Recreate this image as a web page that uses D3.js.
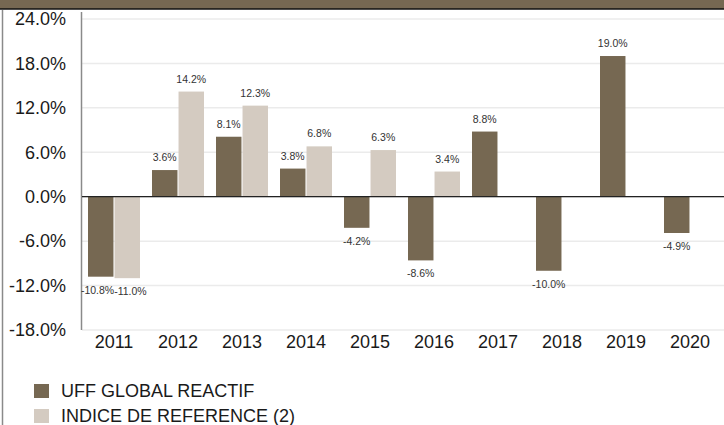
<!DOCTYPE html>
<html>
<head>
<meta charset="utf-8">
<script src="https://cdn.jsdelivr.net/npm/d3@7"></script>
<style>
  body { margin: 0; background: #fff; }
  svg { display: block; font-family: "Liberation Sans", Arial, sans-serif; }
</style>
</head>
<body>
<div id="chart"></div>
<script>
const years = ["2011", "2012", "2013", "2014", "2015", "2016", "2017", "2018", "2019", "2020"];
const fundValues = [-10.8, 3.6, 8.1, 3.8, -4.2, -8.6, 8.8, -10.0, 19.0, -4.9];
const indexValues = [-11.0, 14.2, 12.3, 6.8, 6.3, 3.4, null, null, null, null];
const seriesNames = ["UFF GLOBAL REACTIF", "INDICE DE REFERENCE (2)"];
const yTicks = [-18, -12, -6, 0, 6, 12, 18, 24];

const colors = ["#766852", "#d4cbc1"];

const W = 724, H = 425;
const svg = d3.select("#chart").append("svg")
    .attr("width", W)
    .attr("height", H);

function pct(v) { return v.toFixed(1) + "%"; }

// header band
svg.append("rect").attr("x", 0).attr("y", 0).attr("width", W).attr("height", 9).attr("fill", "#766852");
svg.append("line").attr("x1", 0).attr("x2", W).attr("y1", 9).attr("y2", 9)
    .attr("stroke", "#111").attr("stroke-width", 1.5);
// left border
svg.append("line").attr("x1", 2.5).attr("x2", 2.5).attr("y1", 10).attr("y2", H)
    .attr("stroke", "#8a8a8a").attr("stroke-width", 1.5);

let x = d3.scaleBand()
    .domain(years)
    .range([82, 722]);

let y = d3.scaleLinear()
    .domain([-18, 24])
    .range([330, 19]);

// grid lines
svg.append("g")
    .selectAll("line")
    .data(yTicks)
    .enter().append("line")
    .attr("x1", 82)
    .attr("x2", W)
    .attr("y1", d => y(d))
    .attr("y2", d => y(d))
    .attr("stroke", "#ebebeb")
    .attr("stroke-width", 1.5);

// y axis labels
svg.append("g")
    .selectAll("text")
    .data(yTicks)
    .enter().append("text")
    .attr("x", 66)
    .attr("y", d => y(d))
    .attr("dy", "0.35em")
    .attr("text-anchor", "end")
    .style("font-size", "18px")
    .attr("fill", "#1a1a1a")
    .text(d => pct(d));

// y axis line
svg.append("line").attr("x1", 81.5).attr("x2", 81.5).attr("y1", 12).attr("y2", 330)
    .attr("stroke", "#8a8a8a").attr("stroke-width", 1.5);

// x labels
svg.append("g")
    .selectAll("text")
    .data(years)
    .enter().append("text")
    .attr("x", d => x(d) + x.bandwidth() / 2)
    .attr("y", 348)
    .attr("text-anchor", "middle")
    .style("font-size", "18px")
    .attr("fill", "#1a1a1a")
    .text(d => d);

let sub = d3.scaleBand()
    .domain([0, 1])
    .range([6, 58])
    .paddingInner(0.04);

const series = [fundValues, indexValues];
const labelGroups = [];
series.forEach(function (vals, s) {
    let data = years.map((yr, i) => ({year: yr, value: vals[i]})).filter(d => d.value !== null);
    let g = svg.append("g");
    g.selectAll("rect")
        .data(data)
        .enter().append("rect")
        .attr("x", d => x(d.year) + sub(s))
        .attr("width", sub.bandwidth())
        .attr("y", d => y(Math.max(0, d.value)))
        .attr("height", d => Math.abs(y(d.value) - y(0)))
        .attr("fill", colors[s]);
    let labels = g.selectAll("text")
        .data(data)
        .enter().append("text")
        .attr("x", d => x(d.year) + sub(s) + sub.bandwidth() / 2)
        .attr("y", d => d.value >= 0 ? y(d.value) - 9 : y(d.value) + 17)
        .attr("text-anchor", "middle")
        .style("font-size", "10.5px")
        .attr("fill", "#333")
        .text(d => pct(d.value));
    labelGroups.push(labels);
});

// push apart labels of the same year that collide
labelGroups[0].each(function (d) {
    let a = this;
    labelGroups[1].each(function (e) {
        if (e.year !== d.year) return;
        let ay = +a.getAttribute("y"), by = +this.getAttribute("y");
        if (Math.abs(ay - by) > 10) return;
        let ax = +a.getAttribute("x"), bx = +this.getAttribute("x");
        let overlap = (a.getComputedTextLength() + this.getComputedTextLength()) / 2 - (bx - ax);
        if (overlap > 0) {
            a.setAttribute("x", ax - overlap / 2);
            this.setAttribute("x", bx + overlap / 2);
        }
    });
});

// zero line
svg.append("line").attr("x1", 82).attr("x2", W).attr("y1", y(0)).attr("y2", y(0))
    .attr("stroke", "#222").attr("stroke-width", 1.2);

// legend
const legend = svg.append("g");
legend.selectAll("rect")
    .data(seriesNames)
    .enter().append("rect")
    .attr("x", 34)
    .attr("y", (d, i) => 384 + i * 25)
    .attr("width", 15)
    .attr("height", 14)
    .attr("fill", (d, i) => colors[i]);
legend.selectAll("text")
    .data(seriesNames)
    .enter().append("text")
    .attr("x", 61)
    .attr("y", (d, i) => 391 + i * 25)
    .attr("dy", "0.35em")
    .style("font-size", "18px")
    .attr("fill", "#1a1a1a")
    .text(d => d);
</script>
</body>
</html>
